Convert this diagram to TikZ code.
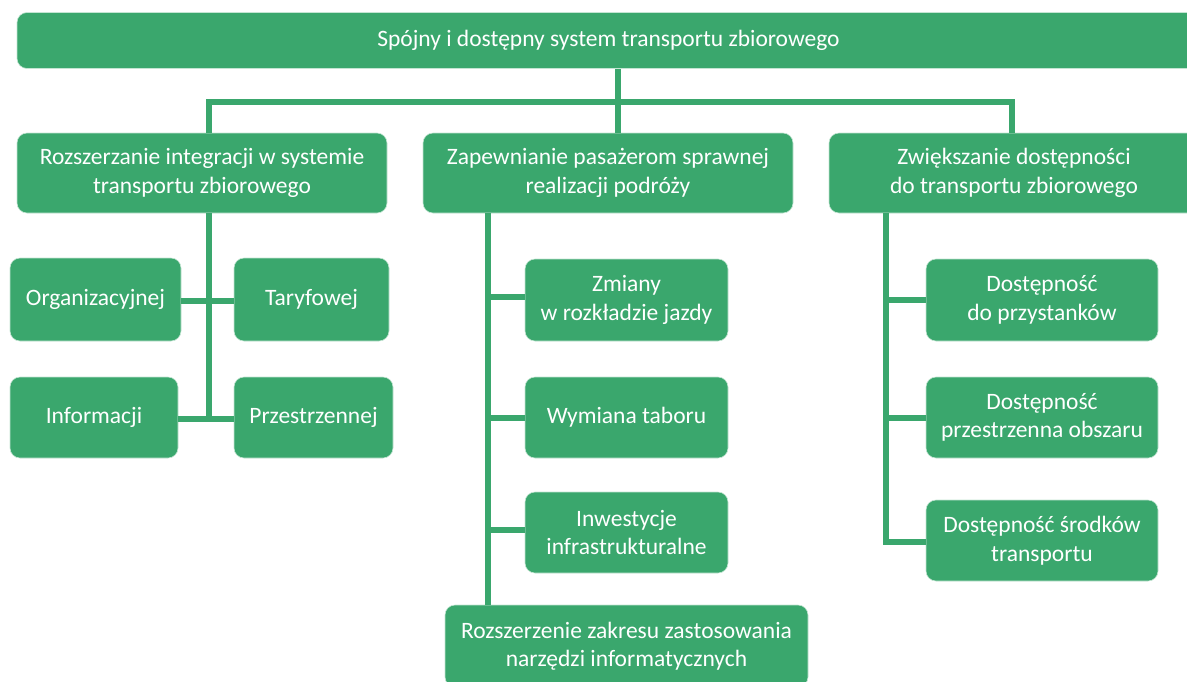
\documentclass[tikz,border=0pt]{standalone}
\usepackage{fontspec}
\setmainfont{Carlito}
\definecolor{gr}{HTML}{3AA76D}
\begin{document}
\begin{tikzpicture}[x=1pt,y=-1pt,
  box/.style={fill=gr,draw=white!70!gr,line width=0.6pt,rounded corners=10pt,text=white,align=center,inner sep=0pt,
    font=\fontsize{23.5}{28.5}\selectfont},
  conn/.style={draw=gr,line width=6pt}]
\useasboundingbox (0,0) rectangle (1187,681);
% top
\node[box,minimum width=1183pt,minimum height=56pt] (top) at (608.5,40.5) {Spójny i dostępny system transportu zbiorowego};
% level 2
\node[box,minimum width=370pt,minimum height=80pt] (L) at (202,173) {Rozszerzanie integracji w systemie\\transportu zbiorowego};
\node[box,minimum width=370pt,minimum height=80pt] (M) at (608,173) {Zapewnianie pasażerom sprawnej\\realizacji podróży};
\node[box,minimum width=370pt,minimum height=80pt] (R) at (1014,173) {Zwiększanie dostępności\\do transportu zbiorowego};
% left group
\node[box,minimum width=171pt,minimum height=83pt] (org) at (95.5,299.5) {Organizacyjnej};
\node[box,minimum width=155pt,minimum height=83pt] (tar) at (311.5,299.5) {Taryfowej};
\node[box,minimum width=168pt,minimum height=81pt] (inf) at (94,417.5) {Informacji};
\node[box,minimum width=159pt,minimum height=81pt] (prz) at (313.5,417.5) {Przestrzennej};
% middle group
\node[box,minimum width=203pt,minimum height=82pt] (zm) at (626.5,300) {Zmiany\\w rozkładzie jazdy};
\node[box,minimum width=203pt,minimum height=81pt] (wy) at (626.5,417.5) {Wymiana taboru};
\node[box,minimum width=203pt,minimum height=81pt] (in) at (626.5,532.5) {Inwestycje\\infrastrukturalne};
\node[box,minimum width=363pt,minimum height=82pt] (roz) at (626.5,646) {Rozszerzenie zakresu zastosowania\\narzędzi informatycznych};
% right group
\node[box,minimum width=232pt,minimum height=82pt] (d1) at (1042,300) {Dostępność\\do przystanków};
\node[box,minimum width=232pt,minimum height=81pt] (d2) at (1042,417.5) {Dostępność\\przestrzenna obszaru};
\node[box,minimum width=232pt,minimum height=81pt] (d3) at (1042,540.5) {Dostępność środków\\transportu};
% connectors top
\coordinate (hj) at (618,102);
\draw[conn] (top.south -| hj) -- (hj);
\draw[conn] (L.north -| 208.7,0) |- (hj) -| (R.north -| 1012,0);
\draw[conn] (hj) -- (M.north -| hj);
% left
\coordinate (lb) at (208.7,419);
\draw[conn] (L.south -| lb) -- (lb);
\draw[conn] (org.east |- 0,301) -- (tar.west |- 0,301);
\draw[conn] (inf.east |- lb) -- (prz.west |- lb);
% middle
\coordinate (mx) at (488,0);
\draw[conn] (M.south -| mx) -- (roz.north -| mx);
\draw[conn] (mx |- 0,297) -- (zm.west |- 0,297);
\draw[conn] (mx |- 0,418) -- (wy.west |- 0,418);
\draw[conn] (mx |- 0,530) -- (in.west |- 0,530);
% right
\coordinate (rx) at (886,0);
\draw[conn,line join=miter] (R.south -| rx) |- (d3.west |- 0,542);
\draw[conn] (rx |- 0,300) -- (d1.west |- 0,300);
\draw[conn] (rx |- 0,418) -- (d2.west |- 0,418);
\end{tikzpicture}
\end{document}
